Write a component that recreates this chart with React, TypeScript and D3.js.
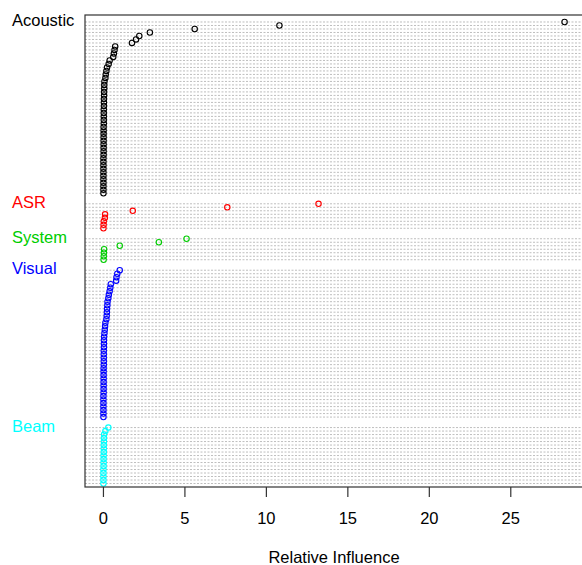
import React from "react";
import * as d3 from "d3";

// Groups, top to bottom
const groupNames = ["Acoustic", "ASR", "System", "Visual", "Beam"];
const groupColors = ["#000000", "#FF0000", "#00CD00", "#0000FF", "#00FFFF"];

// Relative influence values per group (top to bottom, descending)
const acousticValues = [
  28.3, 10.8, 5.6, 2.85, 2.2, 2.0, 1.75, 0.72, 0.68, 0.64, 0.6, 0.38, 0.32, 0.22, 0.18, 0.14, 0.12,
  0.06, 0.05, 0.05, 0.04, 0.04, 0.03, 0.03, 0.03, 0.02, 0.02, 0.02, 0.02, 0.02,
  0.01, 0.01, 0.01, 0.01, 0.01, 0.01, 0.01, 0.01, 0.01,
  0, 0, 0, 0, 0, 0, 0, 0, 0, 0, 0,
];
const asrValues = [13.2, 7.6, 1.8, 0.1, 0.09, 0.02, 0.01, 0];
const systemValues = [5.1, 3.4, 1.0, 0.04, 0.03, 0.02, 0.01];
const visualValues = [
  1.0, 0.85, 0.8, 0.78, 0.45, 0.42, 0.38, 0.33, 0.3, 0.25, 0.24, 0.22, 0.21, 0.2, 0.18, 0.12, 0.1, 0.08, 0.06,
  0.04, 0.03, 0.03, 0.03, 0.02, 0.02, 0.02, 0.02, 0.02,
  0.01, 0.01, 0.01, 0.01, 0.01, 0.01, 0.01, 0.01,
  0, 0, 0, 0, 0, 0, 0,
];
const beamValues = [0.3, 0.12, 0.04, 0.03, 0.03, 0.02, 0.02, 0.02, 0.01, 0.01, 0.01, 0.01, 0, 0, 0, 0, 0];

const xTicks = [0, 5, 10, 15, 20, 25];
const xTitle = "Relative Influence";

const W = 582;
const H = 565;
const plotLeft = 85;
const plotRight = 583;
const plotTop = 15;
const plotBottom = 487;
const FONT = "'Liberation Sans', Arial, sans-serif";

export default function App() {
  const groups = [acousticValues, asrValues, systemValues, visualValues, beamValues];

  // dotchart-style layout: bottom group first, y = 1..n with 2-unit gaps
  type Pt = { v: number; y: number; color: string };
  const pts: Pt[] = [];
  const labels: { name: string; y: number; color: string }[] = [];
  let counter = 1;
  for (let g = groups.length - 1; g >= 0; g--) {
    const vals = groups[g];
    for (let i = vals.length - 1; i >= 0; i--) {
      pts.push({ v: vals[i], y: counter, color: groupColors[g] });
      counter++;
    }
    labels.push({ name: groupNames[g], y: counter, color: groupColors[g] });
    counter += 2;
  }
  const maxY = d3.max(pts, (p) => p.y) as number;

  const allV = pts.map((p) => p.v);
  const [vmin, vmax] = d3.extent(allV) as [number, number];
  const ext = (vmax - vmin) * 0.04;
  const x = d3.scaleLinear().domain([vmin - ext, vmax + ext]).range([plotLeft, plotRight]);
  const y = d3.scaleLinear().domain([0, maxY + 2]).range([plotBottom, plotTop]);

  return (
    <div style={{ position: "absolute", left: 0, top: 0 }}>
      <svg width={W} height={H} style={{ display: "block", background: "#fff" }}>
        <rect x={0} y={0} width={W} height={H} fill="#fff" />
        {/* dotted lines */}
        {pts.map((p, i) => (
          <line
            key={"l" + i}
            x1={plotLeft}
            x2={plotRight}
            y1={y(p.y)}
            y2={y(p.y)}
            stroke="#bebebe"
            strokeWidth={1}
            strokeDasharray="2 1.5"
          />
        ))}
        {/* points */}
        {pts.map((p, i) => (
          <circle
            key={"c" + i}
            cx={x(p.v)}
            cy={y(p.y)}
            r={2.7}
            fill="none"
            stroke={p.color}
            strokeWidth={1.1}
          />
        ))}
        {/* box */}
        <rect
          x={plotLeft}
          y={plotTop}
          width={plotRight - plotLeft}
          height={plotBottom - plotTop}
          fill="none"
          stroke="#333"
          strokeWidth={1.2}
        />
        {/* x axis */}
        {xTicks.map((t) => (
          <g key={"t" + t}>
            <line x1={x(t)} x2={x(t)} y1={plotBottom} y2={plotBottom + 10} stroke="#333" strokeWidth={1.2} />
            <text
              x={x(t)}
              y={518}
              textAnchor="middle"
              dominantBaseline="central"
              fontFamily={FONT}
              fontSize={16.5}
              fill="#000"
            >
              {t}
            </text>
          </g>
        ))}
        <text
          x={(plotLeft + plotRight) / 2}
          y={557}
          textAnchor="middle"
          dominantBaseline="central"
          fontFamily={FONT}
          fontSize={16.5}
          fill="#000"
        >
          {xTitle}
        </text>
        {/* group labels */}
        {labels.map((l) => (
          <text
            key={l.name}
            x={12}
            y={y(l.y) + 1.5}
            dominantBaseline="central"
            fontFamily={FONT}
            fontSize={16.5}
            fill={l.color}
          >
            {l.name}
          </text>
        ))}
      </svg>
    </div>
  );
}
